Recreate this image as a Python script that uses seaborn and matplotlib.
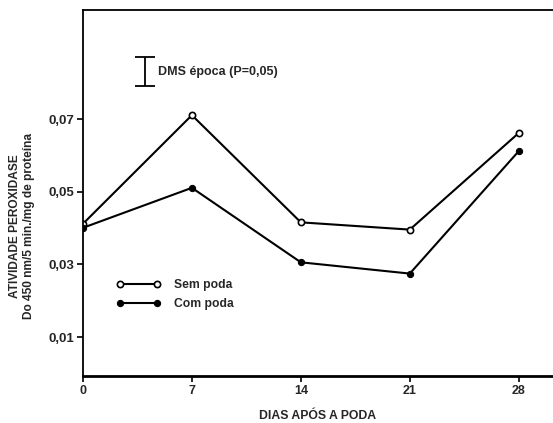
import matplotlib
matplotlib.use("Agg")
import matplotlib.pyplot as plt
import seaborn as sns
import pandas as pd

days = [0, 7, 14, 21, 28]
sem_poda = [0.0412, 0.0711, 0.0416, 0.0396, 0.0662]
com_poda = [0.0401, 0.0511, 0.0306, 0.0275, 0.0612]
yticks = [0.01, 0.03, 0.05, 0.07]
ytick_labels = ["0,01", "0,03", "0,05", "0,07"]
dms_x = 4.0
dms_low, dms_high = 0.0791, 0.0871

sns.set_theme(style="white")
plt.rcParams['font.family'] = ['Liberation Sans', 'DejaVu Sans']

df = pd.DataFrame({
    "dias": days * 2,
    "valor": sem_poda + com_poda,
    "trat": ["Sem poda"] * 5 + ["Com poda"] * 5,
})

fig = plt.figure(figsize=(5.53, 4.23), dpi=100)
ax = fig.add_axes([0.150, 0.111, 0.85, 0.865])

sns.lineplot(data=df[df.trat == "Sem poda"], x="dias", y="valor", ax=ax,
             color="black", lw=1.5, marker="o", markersize=4.5,
             markerfacecolor="white", markeredgecolor="black", markeredgewidth=1.2,
             label="Sem poda")
sns.lineplot(data=df[df.trat == "Com poda"], x="dias", y="valor", ax=ax,
             color="black", lw=1.5, marker="o", markersize=4.5,
             markerfacecolor="black", markeredgecolor="black",
             label="Com poda")

ax.errorbar([dms_x], [(dms_low + dms_high) / 2], yerr=[(dms_high - dms_low) / 2],
            color="black", capsize=7, lw=1.3, capthick=1.3)
ax.text(dms_x + 0.8, (dms_low + dms_high) / 2, "DMS época (P=0,05)",
        fontsize=9, fontweight="bold", va="center", ha="left")

ax.set_xlim(0, 30.2)
ax.set_ylim(-0.0007, 0.1)
ax.set_xticks(days)
ax.set_xticklabels([str(d) for d in days], fontsize=9, fontweight="bold")
ax.set_yticks(yticks)
ax.set_yticklabels(ytick_labels, fontsize=9.5, fontweight="bold")
ax.tick_params(axis="both", direction="out", length=4, width=1.2, color="black",
               bottom=True, left=True, pad=2.5)

for s in ["left", "bottom", "top"]:
    ax.spines[s].set_color("black")
    ax.spines[s].set_linewidth(1.3)
ax.spines["bottom"].set_linewidth(2)
ax.spines["right"].set_visible(False)

ax.set_xlabel("DIAS APÓS A PODA", fontsize=8.8, fontweight="bold", labelpad=9)
ax.set_ylabel("ATIVIDADE PEROXIDASE\nDo 450 nm/5 min./mg de proteína",
              fontsize=8.6, fontweight="bold", linespacing=1.25)
ax.yaxis.set_label_coords(-0.102, 0.41)

leg = ax.legend(loc="upper left", bbox_to_anchor=(0.048, 0.295), frameon=False,
                handlelength=3.7, handletextpad=1.1, labelspacing=0.6,
                numpoints=2, prop={"weight": "bold", "size": 8.7})

fig.savefig("out.png", dpi=100)
